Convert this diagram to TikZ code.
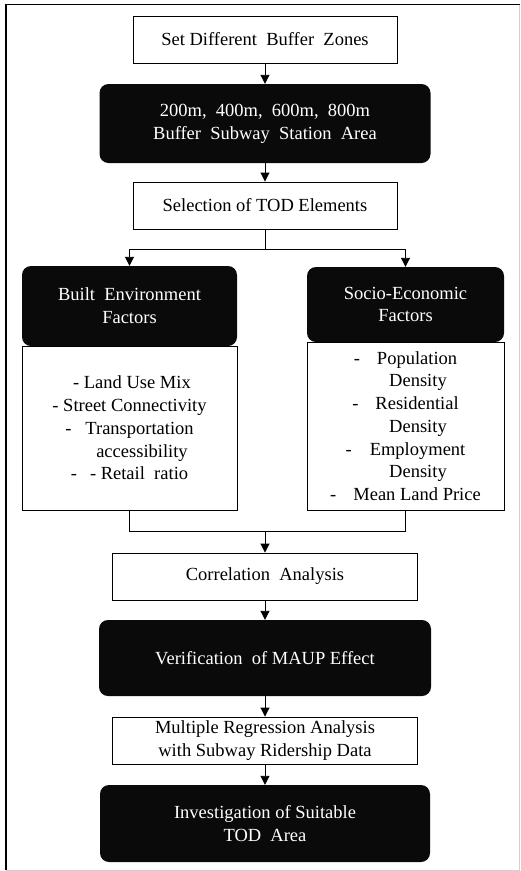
\documentclass[tikz,border=0pt]{standalone}
\usepackage{fontspec}
\setmainfont{Liberation Serif}
\usetikzlibrary{arrows.meta}
\begin{document}
\begin{tikzpicture}[x=1pt,y=-1pt,
  every node/.style={font=\fontsize{18.5}{22.7}\selectfont},
  wbox/.style={draw=black, line width=0.9pt, fill=white, align=center, inner sep=0pt},
  bbox/.style={fill=black!96, rounded corners=9pt, text=white, align=center, inner sep=0pt},
  arr/.style={line width=0.9pt, -{Triangle[width=9pt,length=9pt]}},
  ln/.style={line width=0.9pt}]
\useasboundingbox (0,0) rectangle (520,871);
\fill[white] (0,0) rectangle (520,871);
% frame
\draw[line width=1.6pt] (6,870) -- (6,4.5) -- (519.5,4.5);
\draw[black!18, line width=0.8pt] (519.5,4.5) -- (519.5,870) -- (6,870);

\node[wbox, minimum width=264pt, minimum height=47pt] (b1) at (265,39.5) {Set Different\ \ Buffer\ \ Zones};
\node[bbox, minimum width=331pt, minimum height=79pt] (b2) at (265,123.5) {200m,\ \ 400m,\ \ 600m,\ \ 800m\\Buffer\ \ Subway\ \ Station\ \ Area};
\node[wbox, minimum width=264pt, minimum height=47pt] (b3) at (265,205.5) {Selection of TOD Elements};

\node[bbox, minimum width=215pt, minimum height=80pt] (lb) at (129.5,306) {Built\ \ Environment\\Factors};
\node[bbox, minimum width=197pt, minimum height=75pt] (rb) at (405.5,304.5) {Socio-Economic\\Factors};

\node[wbox, minimum width=215pt, minimum height=164pt] (lw) at (129.5,428) {%
\hspace*{5pt}- Land Use Mix\\
- Street Connectivity\\
-\hspace{14pt}Transportation\\
\hspace*{25pt}accessibility\\
-\hspace{13pt}- Retail\ \ ratio};
\node[wbox, minimum width=197pt, minimum height=168pt] (rw) at (405.5,426) {%
-\hspace{17pt}Population\\
\hspace*{25pt}Density\\
-\hspace{17pt}Residential\\
\hspace*{25pt}Density\\
-\hspace{18pt}Employment\\
\hspace*{25pt}Density\\
-\hspace{17pt}Mean Land Price};

\node[wbox, minimum width=305pt, minimum height=47pt] (corr) at (265,576.5) {Correlation\ \ Analysis};
\node[bbox, minimum width=332pt, minimum height=76pt] (maup) at (265,658) {Verification\ \ of MAUP Effect};
\node[wbox, minimum width=305pt, minimum height=47pt] (mra) at (265,740.5) {Multiple Regression Analysis\\with Subway Ridership Data};
\node[bbox, minimum width=330pt, minimum height=77pt] (tod) at (265,823.5) {Investigation of Suitable\\TOD\ \ Area};

\coordinate (sp) at (265,249);
\coordinate (mg) at (265,531);

\draw[arr] (b1) -- (b2);
\draw[arr] (b2) -- (b3);
\draw[ln] (b3.south) -- (sp);
\draw[arr] (sp) -| (lb.north);
\draw[arr] (sp) -| (rb.north);
\draw[ln] (lw.south) |- (mg);
\draw[ln] (rw.south) |- (mg);
\draw[arr] (mg) -- (corr.north);
\draw[arr] (corr) -- (maup);
\draw[arr] (maup) -- (mra);
\draw[arr] (mra) -- (tod);
\end{tikzpicture}
\end{document}
